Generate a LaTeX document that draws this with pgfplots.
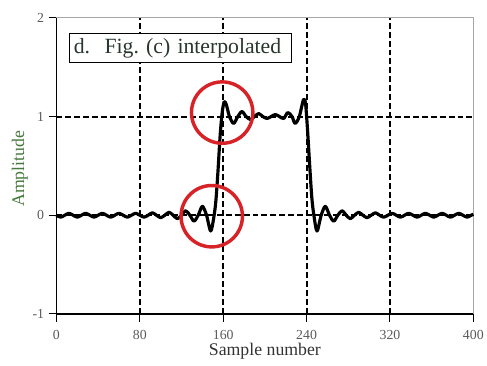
\documentclass[border=0pt]{standalone}
\usepackage{pgfplots}
\pgfplotsset{compat=1.18}
\usepackage{fontspec}
\setmainfont{Liberation Serif}
\definecolor{amplabel}{RGB}{70,120,60}
\definecolor{ticktext}{RGB}{90,90,90}
\definecolor{titletext}{RGB}{40,55,45}
\definecolor{ringred}{RGB}{215,35,40}
\tikzset{dashgrid/.style={black, line width=2bp, dash pattern=on 6bp off 3bp}}
\begin{document}
\begin{tikzpicture}
\begin{axis}[
  scale only axis,
  width=421bp, height=299bp,
  at={(0,0)}, anchor=south west,
  xmin=0, xmax=400, ymin=-1, ymax=2,
  xtick={0,80,...,400}, ytick={-1,0,1,2},
  tick align=outside,
  major tick length=8bp,
  tick style={black, line width=1pt},
  xtick pos=bottom, ytick pos=left,
  axis line style={line width=1.5pt},
  axis x line*=bottom, axis y line*=left,
  /pgf/number format/assume math mode=true,
  ticklabel style={font=\fontsize{14}{14}\selectfont, text=ticktext},
  xticklabel style={yshift=-5bp},
  yticklabel style={xshift=-1bp},
  xlabel={Sample number},
  ylabel={Amplitude},
  xlabel style={font=\fontsize{18}{18}\selectfont, text=black!80,
    at={(axis description cs:0.5,-0.127)}, anchor=center},
  ylabel style={font=\fontsize{18}{18}\selectfont, text=amplabel,
    at={(axis description cs:-0.088,0.49)}, anchor=center},
  clip=false,
]
% outer frame on top and right
\draw[gray!70, line width=1pt] (rel axis cs:0,1) -- (rel axis cs:1,1) -- (rel axis cs:1,0);

% inner dashed grid
\foreach \gx in {80,160,240,320} {
  \edef\temp{\noexpand\draw[dashgrid] (axis cs:\gx,-1) -- (axis cs:\gx,2);}\temp
}
\foreach \gy in {0,1} {
  \edef\temp{\noexpand\draw[dashgrid] (axis cs:0,\gy) -- (axis cs:400,\gy);}\temp
}

% interpolated step signal
\addplot[black, line width=3.2pt, smooth, tension=0.5, line join=round] coordinates {
(0,0) (4,-0.02) (8,0) (12,0.02) (16,0) (20,-0.02) (24,0) (28,0.02) (32,0)
(36,-0.02) (40,0) (44,0.02) (48,0) (52,-0.02) (56,0) (60,0.02) (64,0)
(68,-0.02) (72,0) (76,0.02) (80,0) (84,-0.02) (88,0) (92,0.025) (96,0)
(100,-0.025) (104,0) (108,0.03) (112,0) (116,-0.035) (120,0) (124,0.045)
(128,0) (132,-0.06) (136,0) (140,0.09) (144,0) (148,-0.16) (151,-0.02)
(153,0.15) (155,0.45) (157,0.8) (159,1.04) (161,1.15) (163,1.12) (166,1.0)
(170,0.93) (174,1.0) (178,1.05) (182,1.0) (186,0.97) (190,1.0) (194,1.03)
(198,1.0) (202,0.98) (206,1.0) (210,1.02) (214,1.0) (218,0.98) (222,1.04)
(226,1.0) (229,0.93) (233,1.0) (237,1.17) (239,1.13) (241,0.85) (243,0.5)
(245,0.18) (247,0.0) (250,-0.16) (254,0) (258,0.09) (262,0) (266,-0.06)
(270,0) (274,0.045) (278,0) (282,-0.035) (286,0) (290,0.03) (294,0)
(298,-0.025) (302,0) (306,0.025) (310,0) (314,-0.02) (318,0) (322,0.02)
(326,0) (330,-0.02) (334,0) (338,0.02) (342,0) (346,-0.02) (350,0)
(354,0.02) (358,0) (362,-0.02) (366,0) (370,0.02) (374,0) (378,-0.02)
(382,0) (386,0.02) (390,0) (394,-0.02) (398,0) (400,0.01)
};

% highlighted ringing
\draw[ringred, line width=3.5pt] (axis cs:159,1.04) circle[radius=31bp];
\draw[ringred, line width=3.5pt] (axis cs:149,-0.01) circle[radius=31bp];

% panel caption
\node[draw=black, line width=0.8pt, fill=white, anchor=north west,
  inner xsep=4bp, inner ysep=3bp, minimum height=30bp, text width=216bp,
  font=\fontsize{22}{22}\selectfont, text=titletext]
  at (axis cs:12.5,1.85) {d.\ \ Fig.\ (c) interpolated};
\end{axis}
\useasboundingbox (-57bp,-52bp) rectangle (430bp,317bp);
\end{tikzpicture}
\end{document}
